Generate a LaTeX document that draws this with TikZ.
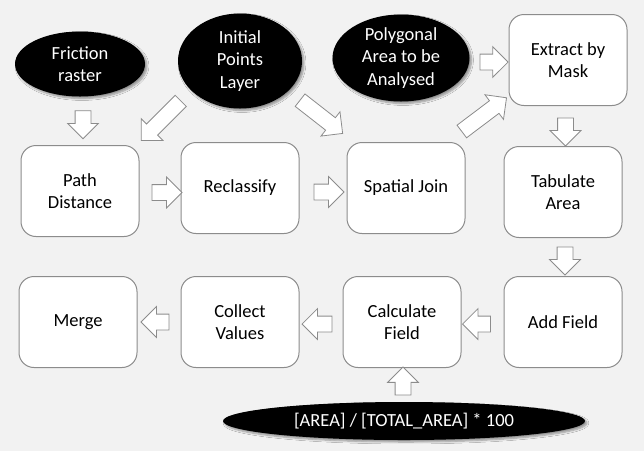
\documentclass[tikz,border=0pt]{standalone}
\usepackage{fontspec}
\setmainfont{Carlito}
\usetikzlibrary{shapes.geometric,shapes.arrows,calc,shadows.blur}
\definecolor{bggray}{HTML}{F2F2F2}
\definecolor{edgegray}{HTML}{8C8C8C}
\newcommand{\labelfont}{\fontsize{18.5}{22.5}\selectfont}
\tikzset{
    task/.style={draw=edgegray, line width=1pt, fill=white, rounded corners=15pt,
        minimum width=118pt, minimum height=91pt, align=center, font=\labelfont},
    data/.style={ellipse, fill=black, text=white, inner sep=0pt, align=center, font=\labelfont,
        blur shadow={shadow xshift=2pt, shadow yshift=-2pt, shadow blur steps=6}},
    flow/.style={single arrow, draw=edgegray, fill=white, line width=0.8pt, inner sep=7.5pt,
        single arrow head extend=7.5pt}
}
\begin{document}
\begin{tikzpicture}[x=1pt,y=-1pt]
                \fill[bggray] (0,0) rectangle (644,451);
                % inputs
                \node[data, minimum width=130pt, minimum height=65pt] (fric) at (80,64) {Friction\\raster};
                \node[data, minimum width=124pt, minimum height=95pt] (ipl) at (240,61) {Initial\\Points\\Layer};
                \node[data, minimum width=137pt, minimum height=87pt] (poly) at (401,58) {Polygonal\\Area to be\\Analysed};
                \node[data, minimum width=362pt, minimum height=38pt] (form) at (404,421) {[AREA] / [TOTAL\_AREA] * 100};
                % tools
                \foreach \n/\t/\x/\y in {ext/{Extract by\\Mask}/568/60, pd/{Path\\Distance}/80/191,
                    recl/Reclassify/240/188, sj/Spatial Join/406/188, tab/{Tabulate\\Area}/563/192,
                    merge/Merge/78/322, col/{Collect\\Values}/240/322, calc/{Calculate\\Field}/402/322,
                    add/Add Field/563/322}
                {
                    \node[task] (\n) at (\x,\y) {\t};
                }
                % block arrows
                \foreach \a/\b/\r/\l/\dx/\dy in {fric.south/pd.north/-90/28/3/0, ipl.south west/pd.north east/225/56/-4/-2,
                    ipl.south east/sj.north west/-38/54/3/-4, pd.east/recl.west/0/30/3/3,
                    recl.east/sj.west/0/30/2/4, sj.north east/ext.south west/37/56/-6/-7,
                    poly.east/ext.west/0/28/1/3, ext.south/tab.north/-90/28/0/2,
                    tab.south/add.north/-90/28/2/0, add.west/calc.east/180/28/-2/2,
                    calc.west/col.east/180/30/0/2, col.west/merge.east/180/28/0/0,
                    form.north/calc.south/90/28/0/0}
                {
                    \node[flow, rotate=\r, minimum height=\l pt] at ($(\a)!0.5!(\b)+(\dx,\dy)$) {};
                }
\end{tikzpicture}
\end{document}
